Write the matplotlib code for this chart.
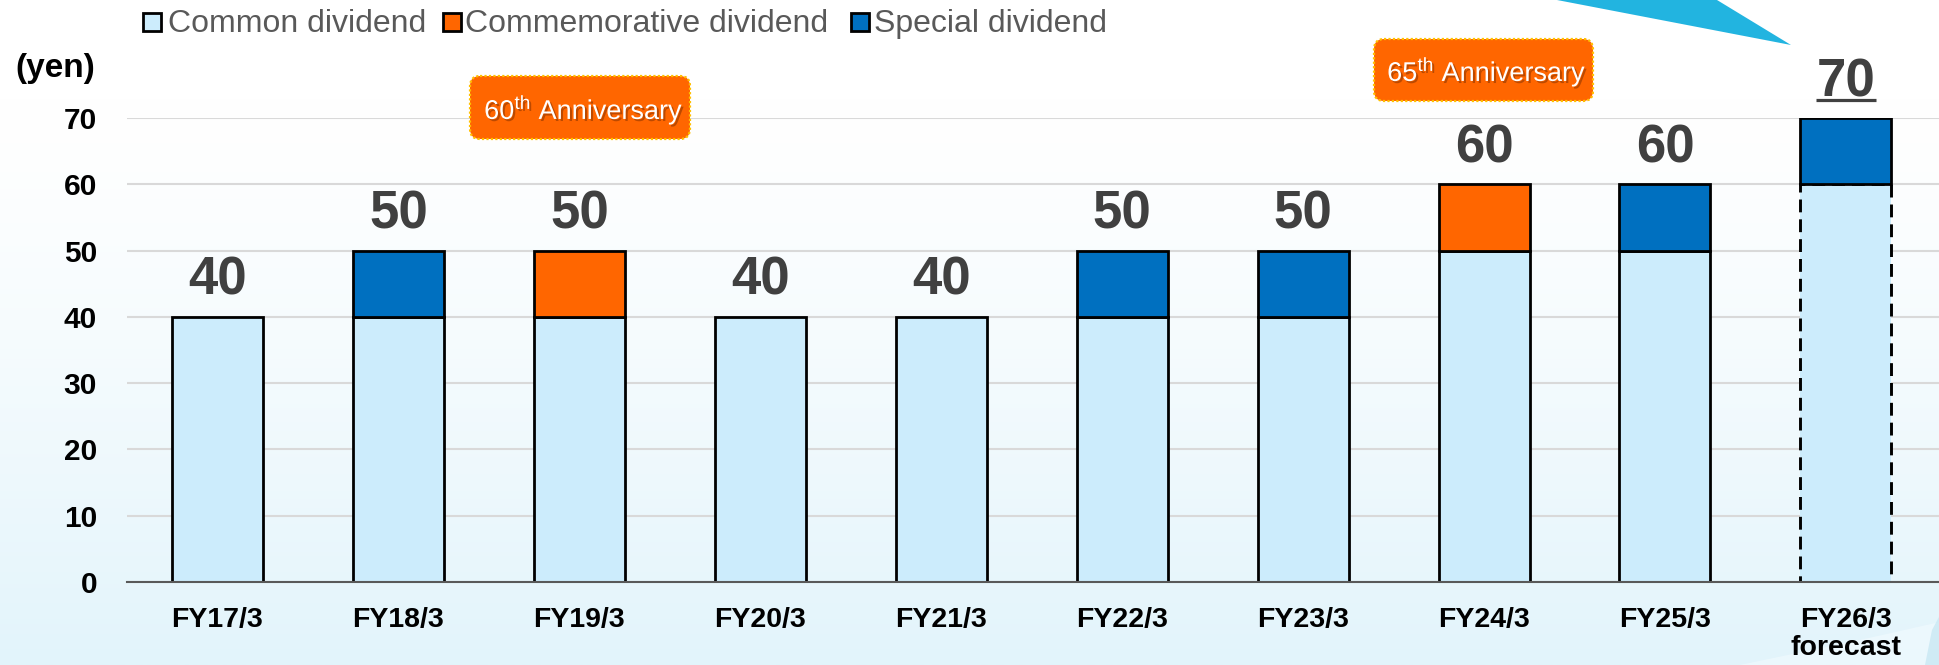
import numpy as np
import matplotlib
matplotlib.use("Agg")
import matplotlib.pyplot as plt
from matplotlib.patches import Rectangle, FancyBboxPatch, Polygon
import matplotlib.patheffects as pe
from matplotlib.colors import to_rgb

# ---------------- data ----------------
categories = ["FY17/3", "FY18/3", "FY19/3", "FY20/3", "FY21/3",
              "FY22/3", "FY23/3", "FY24/3", "FY25/3", "FY26/3\nforecast"]
common = [40, 40, 40, 40, 40, 40, 40, 50, 50, 60]
commemorative = [0, 0, 10, 0, 0, 0, 0, 10, 0, 0]
special = [0, 10, 0, 0, 0, 10, 10, 0, 10, 10]
yticks = [0, 10, 20, 30, 40, 50, 60, 70]
legend_labels = ["Common dividend", "Commemorative dividend", "Special dividend"]
forecast_index = 9

C_COMMON = "#CCECFC"
C_COMM = "#FF6600"
C_SPEC = "#0070C0"
TXT_DARK = "#404040"

plt.rcParams['font.family'] = ['Liberation Sans', 'DejaVu Sans']
plt.rcParams['mathtext.fontset'] = 'custom'
plt.rcParams['mathtext.rm'] = 'Liberation Sans'
plt.rcParams['mathtext.it'] = 'Liberation Sans:italic'
plt.rcParams['mathtext.bf'] = 'Liberation Sans:bold'

W, H = 1940, 665
fig = plt.figure(figsize=(W / 100, H / 100), dpi=100)

# ---------------- background ----------------
bg = fig.add_axes([0, 0, 1, 1], zorder=0)
bg.set_xlim(0, W); bg.set_ylim(H, 0); bg.axis('off')
top_c = np.array(to_rgb("#FFFFFF"))
bot_c = np.array(to_rgb("#E2F4FB"))
t = np.linspace(0, 1, 400)[:, None]
t = np.clip((t - 0.15) / 0.85, 0, 1) ** 1.3
grad = top_c[None, None, :] * (1 - t[:, :, None]) + bot_c[None, None, :] * t[:, :, None]
grad = np.repeat(grad, 2, axis=1)
bg.imshow(grad, extent=[0, W, H, 0], aspect='auto', interpolation='bilinear')
bg.add_patch(Polygon([(1740, 665), (1860, 640), (1940, 622), (1940, 665)],
                     closed=True, facecolor="#F0FAFE", edgecolor='none', alpha=0.7))
bg.add_patch(Polygon([(1925, 665), (1932, 630), (1940, 615), (1940, 665)],
                     closed=True, facecolor="#C9E8F4", edgecolor='none', alpha=0.8))

# ---------------- main chart ----------------
ax = fig.add_axes([127 / W, 83 / H, (W - 127) / W, 464 / H], zorder=1)
ax.patch.set_alpha(0)
x = np.arange(len(categories))
bw = 0.503
lw = 2.0

for i in x:
    if i == forecast_index:
        ax.bar(i, common[i], bw, color=C_COMMON, edgecolor='none', zorder=3)
        ax.bar(i, common[i], bw, fill=False, edgecolor='black', linewidth=2.1,
               linestyle=(0, (4.4, 2.4)), zorder=4)
    else:
        ax.bar(i, common[i], bw, color=C_COMMON, edgecolor='black', linewidth=lw, zorder=3)
    if commemorative[i] > 0:
        ax.bar(i, commemorative[i], bw, bottom=common[i], color=C_COMM,
               edgecolor='black', linewidth=lw, zorder=5)
    if special[i] > 0:
        ax.bar(i, special[i], bw, bottom=common[i] + commemorative[i], color=C_SPEC,
               edgecolor='black', linewidth=lw, zorder=5)

totals = [c + m + s for c, m, s in zip(common, commemorative, special)]
for i, tot in enumerate(totals):
    ax.text(i, tot + 3.3, str(tot), ha='center', va='baseline', fontsize=38,
            fontweight='bold', color=TXT_DARK, clip_on=False, zorder=6)
# underline for forecast total
ax.plot([forecast_index - 0.166, forecast_index + 0.166],
        [totals[forecast_index] + 2.7] * 2, color=TXT_DARK, lw=2.3,
        clip_on=False, solid_capstyle='butt', zorder=6)

ax.set_xlim(-0.5, 9.52)
ax.set_ylim(0, 70)
ax.set_yticks(yticks)
ax.set_yticklabels([str(v) for v in yticks], fontsize=21.5, fontweight='bold')
ax.set_xticks(x)
ax.set_xticklabels(categories, fontsize=20.5, fontweight='bold', linespacing=1.1)
ax.tick_params(axis='y', length=0, pad=21.5)
ax.tick_params(axis='x', length=0, pad=18)
for s in ['left', 'right', 'top']:
    ax.spines[s].set_visible(False)
ax.spines['bottom'].set_color('#595959')
ax.spines['bottom'].set_linewidth(1.5)
ax.spines['bottom'].set_zorder(6)
ax.yaxis.grid(True, color='#D9D9D9', linewidth=1.5, zorder=0)
ax.set_axisbelow(True)

# ---------------- foreground decorations ----------------
fg = fig.add_axes([0, 0, 1, 1], zorder=3)
fg.patch.set_alpha(0)
fg.set_xlim(0, W); fg.set_ylim(H, 0); fg.axis('off')

# (yen)
fg.text(15, 77, "(yen)", fontsize=24, fontweight='bold', color='black',
        ha='left', va='baseline')

# legend
leg_colors = [C_COMMON, C_COMM, C_SPEC]
sq_x = [143, 443, 851]
tx_x = [168, 465, 874]
for lab, col, sx, tx in zip(legend_labels, leg_colors, sq_x, tx_x):
    fg.add_patch(Rectangle((sx, 13), 18, 18, facecolor=col, edgecolor='black', linewidth=2))
    fg.text(tx, 32, lab, fontsize=23, color='#595959', ha='left', va='baseline')

# triangle (arrow tip)
fg.add_patch(Polygon([(1557, 0), (1717, 0), (1791, 45)], closed=True,
                     facecolor='#22B4E0', edgecolor='none'))

# anniversary boxes
def anniv(x0, y0, w, h, tx, ty, label):
    fg.add_patch(FancyBboxPatch((x0, y0), w, h,
                                boxstyle='round,pad=0,rounding_size=10',
                                facecolor=C_COMM, edgecolor='#FFC000',
                                linewidth=1.6, linestyle=(0, (1, 1))))
    fg.text(tx, ty, label, fontsize=19.5, color='white', ha='center', va='baseline',
            path_effects=[pe.withSimplePatchShadow(offset=(1.5, -1.5),
                                                   shadow_rgbFace='#7A2E00', alpha=0.5)])

anniv(470, 76, 220, 63, 584, 119, r"60$^{\mathrm{th}}$ Anniversary")
anniv(1374, 39, 219, 62, 1487, 81, r"65$^{\mathrm{th}}$ Anniversary")

fig.savefig("out.png", dpi=100)
